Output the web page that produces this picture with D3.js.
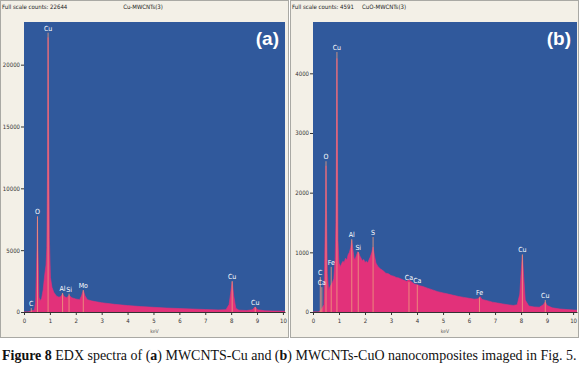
<!DOCTYPE html>
<html>
<head>
<meta charset="utf-8">
<script src="https://cdn.jsdelivr.net/npm/d3@7"></script>
<style>
  body { margin: 0; background: #ffffff; }
  svg { display: block; }
  .tick text { font-family: "Liberation Sans Narrow", "DejaVu Sans Condensed", sans-serif; font-stretch: condensed; }
</style>
</head>
<body>
<script>
// spectrum (a): [keV, counts]
const spectrumA = [
  [0, 0], [0.15, 0], [0.25, 60], [0.3, 120], [0.4, 150], [0.45, 800], [0.5, 5000], [0.52, 7700],
  [0.54, 5000], [0.58, 1200], [0.62, 900], [0.68, 1100], [0.74, 1800], [0.8, 3000], [0.85, 3800],
  [0.88, 5200], [0.91, 12000], [0.93, 22200], [0.95, 15000], [0.98, 6000], [1.02, 2800], [1.08, 2000],
  [1.15, 1600], [1.25, 1300], [1.35, 1200], [1.42, 1250], [1.49, 1480], [1.55, 1250], [1.65, 1150],
  [1.74, 1350], [1.85, 1150], [2.0, 1050], [2.15, 1000], [2.22, 1300], [2.29, 1750], [2.36, 1300],
  [2.45, 1000], [2.6, 900], [2.8, 820], [3.0, 750], [3.5, 620], [4.0, 520], [4.5, 440], [5.0, 380],
  [5.5, 320], [6.0, 280], [6.5, 240], [7.0, 200], [7.5, 170], [7.8, 190], [7.92, 600], [7.98, 1500],
  [8.04, 2450], [8.1, 1300], [8.18, 300], [8.3, 150], [8.6, 120], [8.82, 180], [8.93, 420], [9.02, 180],
  [9.3, 100], [9.6, 80], [10.1, 60]
];

// spectrum (b): [keV, counts]
const spectrumB = [
  [0, 0], [0.2, 0], [0.3, 30], [0.42, 120], [0.45, 900], [0.48, 1650], [0.5, 2450], [0.52, 1700],
  [0.55, 650], [0.6, 360], [0.65, 420], [0.7, 460], [0.75, 500], [0.8, 560], [0.85, 880], [0.88, 1500],
  [0.9, 2800], [0.92, 4250], [0.94, 2700], [0.96, 1200], [1.0, 820], [1.05, 760], [1.1, 810], [1.15, 850],
  [1.2, 830], [1.25, 900], [1.3, 870], [1.35, 960], [1.4, 1000], [1.45, 1080], [1.49, 1200], [1.53, 1060],
  [1.58, 900], [1.62, 880], [1.67, 950], [1.72, 1010], [1.76, 990], [1.8, 940], [1.85, 900], [1.9, 860],
  [1.95, 880], [2.0, 830], [2.05, 850], [2.1, 820], [2.15, 870], [2.2, 920], [2.26, 1000], [2.31, 1090],
  [2.36, 950], [2.42, 820], [2.5, 760], [2.6, 720], [2.7, 690], [2.8, 650], [2.9, 640], [3.0, 610],
  [3.1, 600], [3.2, 580], [3.3, 570], [3.4, 550], [3.5, 530], [3.6, 515], [3.69, 540], [3.8, 500],
  [3.9, 470], [4.0, 460], [4.1, 440], [4.2, 430], [4.4, 400], [4.6, 370], [4.8, 340], [5.0, 320],
  [5.2, 300], [5.4, 280], [5.6, 260], [5.8, 245], [6.0, 230], [6.2, 215], [6.35, 220], [6.42, 260],
  [6.5, 210], [6.7, 190], [6.9, 165], [7.1, 150], [7.3, 135], [7.5, 120], [7.7, 110], [7.85, 120],
  [7.95, 300], [8.0, 650], [8.05, 950], [8.1, 600], [8.16, 200], [8.3, 100], [8.5, 85], [8.7, 80],
  [8.85, 120], [8.93, 170], [9.0, 110], [9.2, 70], [9.5, 50], [9.8, 40], [10.15, 30]
];

// peak labels: [element, keV, label height in counts]
const peaksA = [
  ["C", 0.28, 480], ["O", 0.52, 7900], ["Cu", 0.93, 22750], ["Al", 1.49, 1700], ["Si", 1.74, 1650],
  ["Mo", 2.29, 1930], ["Cu", 8.04, 2660], ["Cu", 8.93, 560]
];
const peaksB = [
  ["C", 0.28, 620], ["Ca", 0.34, 450], ["O", 0.5, 2560], ["Fe", 0.7, 790], ["Cu", 0.92, 4390],
  ["Al", 1.49, 1255], ["Si", 1.74, 1040], ["S", 2.31, 1290], ["Ca", 3.69, 535], ["Ca", 4.01, 485],
  ["Fe", 6.4, 280], ["Cu", 8.05, 1000], ["Cu", 8.93, 235]
];

const xTicks = [0, 1, 2, 3, 4, 5, 6, 7, 8, 9, 10];
const yTicksA = [0, 5000, 10000, 15000, 20000];
const yTicksB = [0, 1000, 2000, 3000, 4000];

const width = 580, height = 368;
const svg = d3.select("body").append("svg")
  .attr("width", width)
  .attr("height", height);

const narrow = "'Liberation Sans Narrow', 'DejaVu Sans Condensed', sans-serif";

function drawPanel(opt) {
  const g = svg.append("g");

  // panel background
  g.append("rect")
    .attr("x", opt.left + 0.5).attr("y", 0.5)
    .attr("width", opt.w - 1).attr("height", 337)
    .attr("fill", "#f3f0e7")
    .attr("stroke", "#a9a9a4");

  const x = d3.scaleLinear().domain([0, opt.xMax]).range([opt.plotL, opt.plotR]);
  const y = d3.scaleLinear().domain([0, opt.yMax]).range([opt.plotB, 22]);

  // plot area
  g.append("rect")
    .attr("x", opt.plotL).attr("y", 22)
    .attr("width", opt.plotR - opt.plotL).attr("height", opt.plotB - 22)
    .attr("fill", "#30599c");

  const clipId = "clip" + opt.name;
  svg.append("clipPath").attr("id", clipId)
    .append("rect")
    .attr("x", opt.plotL).attr("y", 22)
    .attr("width", opt.plotR - opt.plotL).attr("height", opt.plotB - 22);

  const area = d3.area()
    .x(d => x(d[0]))
    .y0(opt.plotB)
    .y1(d => y(d[1]));

  g.append("path")
    .datum(opt.data)
    .attr("clip-path", "url(#" + clipId + ")")
    .attr("fill", "#e2317a")
    .attr("stroke", "#e2317a")
    .attr("stroke-width", 0.6)
    .attr("d", area);

  // marker lines and element labels
  const pk = g.append("g").attr("clip-path", "url(#" + clipId + ")");
  pk.selectAll("line")
    .data(opt.peaks)
    .join("line")
    .attr("x1", d => x(d[1])).attr("x2", d => x(d[1]))
    .attr("y1", d => y(d[2]) + 2).attr("y2", opt.plotB)
    .attr("stroke", "#f0a07c")
    .attr("stroke-width", 0.8);
  pk.selectAll("text")
    .data(opt.peaks)
    .join("text")
    .attr("x", d => x(d[1]))
    .attr("y", d => y(d[2]))
    .attr("text-anchor", "middle")
    .attr("fill", "#ffffff")
    .style("font-family", narrow)
    .style("font-stretch", "condensed")
    .style("font-size", "7px")
    .text(d => d[0]);

  // axes
  const xAxis = d3.axisBottom(x).tickValues(xTicks).tickSize(3).tickSizeOuter(0).tickFormat(d3.format("d"));
  const gx = g.append("g")
    .attr("transform", "translate(0," + opt.plotB + ")")
    .call(xAxis);
  gx.selectAll("text").attr("font-size", 6).attr("fill", "#333").attr("dy", "0.9em");
  gx.selectAll("line, path").attr("stroke", "#333");

  const yAxis = d3.axisLeft(y).tickValues(opt.yTicks).tickSize(3).tickSizeOuter(0).tickFormat(d3.format("d"));
  const gy = g.append("g")
    .attr("transform", "translate(" + opt.plotL + ",0)")
    .call(yAxis);
  gy.select(".domain").remove();
  gy.selectAll("text").attr("font-size", 6).attr("fill", "#333").attr("x", -4);
  gy.selectAll("line").attr("stroke", "#333");

  // header texts
  g.append("text")
    .attr("x", opt.left + 2).attr("y", 9)
    .style("font-family", narrow)
    .style("font-stretch", "condensed")
    .style("font-size", "6px")
    .attr("fill", "#222")
    .text("Full scale counts: " + opt.fullScale);
  g.append("text")
    .attr("x", opt.titleX).attr("y", 9)
    .attr("text-anchor", "middle")
    .style("font-family", narrow)
    .style("font-stretch", "condensed")
    .style("font-size", "6px")
    .attr("fill", "#222")
    .text(opt.title);

  // panel letter
  g.append("text")
    .attr("x", opt.plotR - 6).attr("y", 45)
    .attr("text-anchor", "end")
    .style("font-family", "'Liberation Sans', Arial, sans-serif")
    .style("font-weight", "bold")
    .style("font-size", "19px")
    .attr("fill", "#ffffff")
    .text(opt.letter);

  // x axis title
  g.append("text")
    .attr("x", (opt.plotL + opt.plotR) / 2).attr("y", 333)
    .attr("text-anchor", "middle")
    .style("font-family", narrow)
    .style("font-size", "5px")
    .attr("fill", "#555")
    .text("keV");
}

drawPanel({
  name: "A", left: 0, w: 289, plotL: 24, plotR: 285, plotB: 312,
  xMax: 10.08, yMax: 23450, data: spectrumA, peaks: peaksA, yTicks: yTicksA,
  fullScale: 22644, title: "Cu-MWCNTs(3)", titleX: 143, letter: "(a)"
});

drawPanel({
  name: "B", left: 290, w: 289, plotL: 313, plotR: 577, plotB: 312,
  xMax: 10.15, yMax: 4860, data: spectrumB, peaks: peaksB, yTicks: yTicksB,
  fullScale: 4591, title: "CuO-MWCNTs(3)", titleX: 384, letter: "(b)"
});

// caption: sized to fill the width instead of stretching glyphs
const cap = svg.append("text")
  .attr("x", 2).attr("y", 360)
  .style("font-family", "'Liberation Serif', 'DejaVu Serif', serif")
  .style("font-size", "13px")
  .attr("fill", "#111");
cap.append("tspan").style("font-weight", "bold").text("Figure 8");
cap.append("tspan").text(" EDX spectra of (");
cap.append("tspan").style("font-weight", "bold").text("a");
cap.append("tspan").text(") MWCNTS-Cu and (");
cap.append("tspan").style("font-weight", "bold").text("b");
cap.append("tspan").text(") MWCNTs-CuO nanocomposites imaged in Fig. 5.");
const capW = cap.node().getComputedTextLength();
cap.style("font-size", (13 * 575 / capW).toFixed(2) + "px");
</script>
</body>
</html>
